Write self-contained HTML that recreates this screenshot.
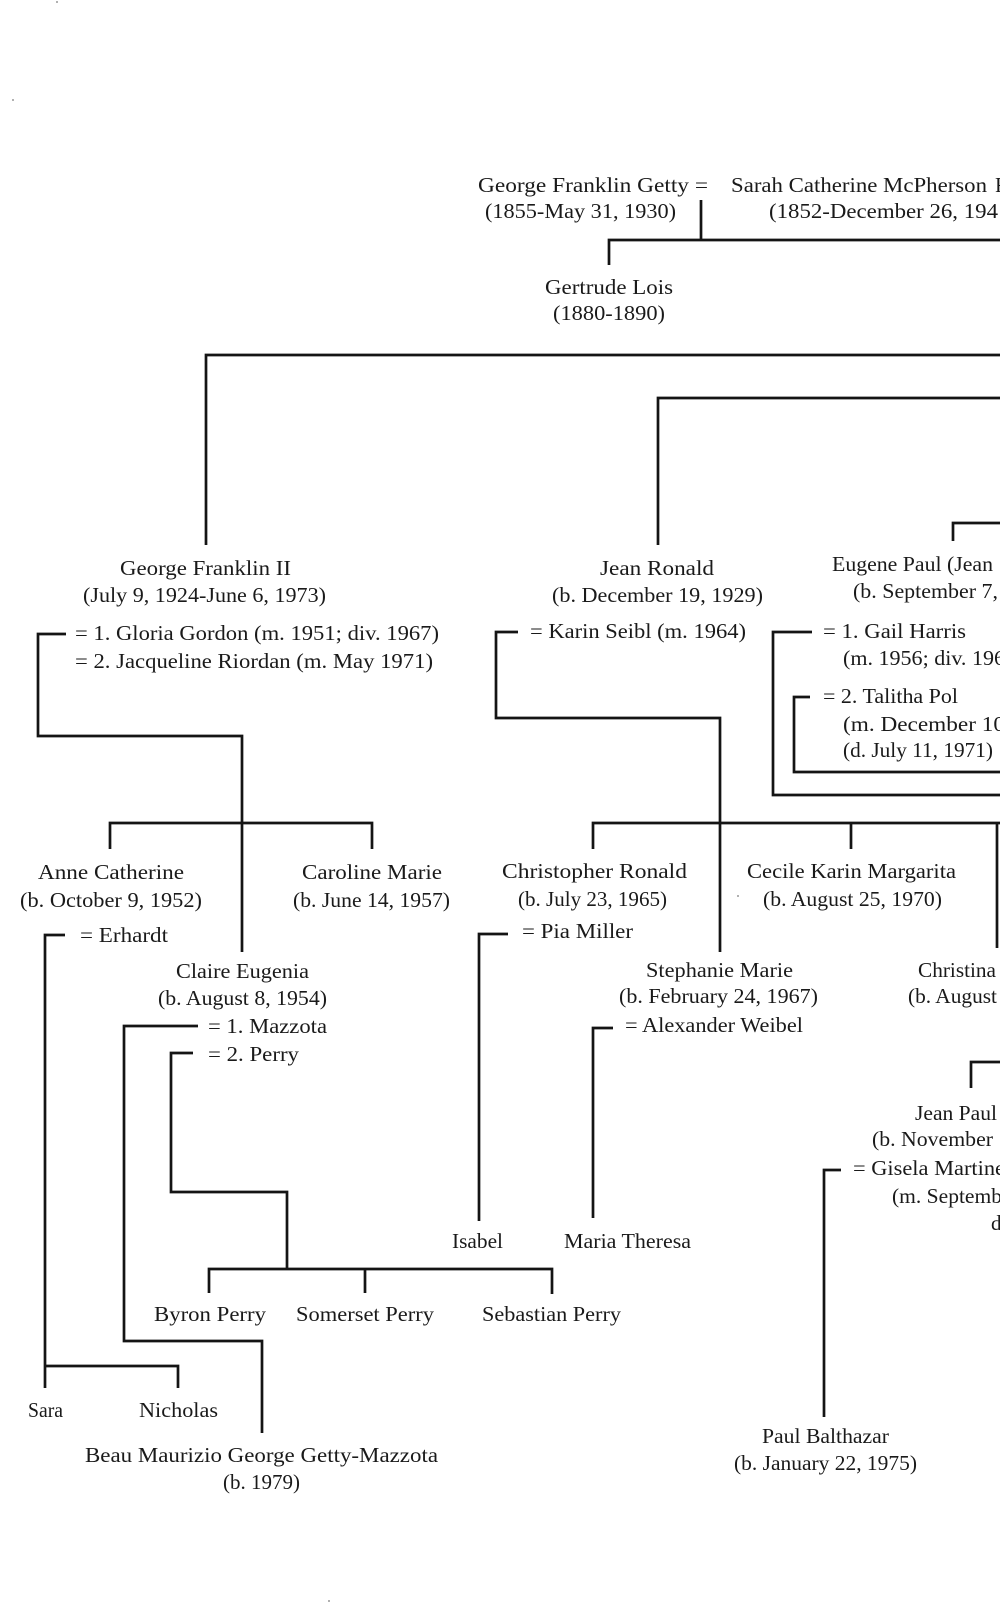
<!DOCTYPE html>
<html>
<head>
<meta charset="utf-8">
<style>
  html,body{margin:0;padding:0;background:#fff;width:1000px;height:1621px;overflow:hidden;}
  svg{display:block;}
  text{font-family:"Liberation Serif","DejaVu Serif",serif;font-size:21px;fill:#1a1a1a;}
</style>
</head>
<body>
<svg width="1000" height="1621" viewBox="0 0 1000 1621" xmlns="http://www.w3.org/2000/svg">
<g fill="none" stroke="#141414" stroke-width="2.7" stroke-linecap="butt" stroke-linejoin="miter">
  <!-- top couple -->
  <polyline points="701,200 701,240"/>
  <polyline points="609,265 609,240 1000,240"/>
  <!-- generation lines -->
  <polyline points="206,545 206,355 1000,355"/>
  <polyline points="658,545 658,398 1000,398"/>
  <polyline points="953,541 953,523 1000,523"/>
  <!-- George Franklin II bracket -->
  <polyline points="66,634 38,634 38,736 242,736 242,952"/>
  <polyline points="110,849 110,823 372,823 372,849"/>
  <!-- Erhardt -->
  <polyline points="65,935 45,935 45,1388"/>
  <polyline points="45,1366 178,1366 178,1388"/>
  <!-- Mazzota -->
  <polyline points="198,1026 124,1026 124,1341 262,1341 262,1433"/>
  <!-- Perry -->
  <polyline points="193,1053 171,1053 171,1192 287,1192 287,1269"/>
  <polyline points="209,1293 209,1269 552,1269 552,1294"/>
  <polyline points="365,1269 365,1293"/>
  <!-- Jean Ronald -->
  <polyline points="518,632 496,632 496,718 720,718 720,952"/>
  <polyline points="593,849 593,823 1000,823"/>
  <polyline points="851,823 851,849"/>
  <polyline points="997,823 997,948"/>
  <!-- Pia Miller -->
  <polyline points="508,934 479,934 479,1221"/>
  <!-- Alexander Weibel -->
  <polyline points="613,1028 593,1028 593,1218"/>
  <!-- Eugene Paul marriages -->
  <polyline points="812,632 773,632 773,795 1000,795"/>
  <polyline points="810,697 794,697 794,772 1000,772"/>
  <!-- Jean Paul -->
  <polyline points="971,1088 971,1062 1000,1062"/>
  <polyline points="841,1170 824,1170 824,1417"/>
</g>

<!-- specks -->
<g fill="#999">
  <circle cx="57" cy="2" r="1"/>
  <circle cx="13" cy="100" r="1"/>
  <circle cx="329" cy="1601" r="1"/>
  <circle cx="738" cy="896" r="1"/>
</g>

<g lengthAdjust="spacingAndGlyphs">
  <text x="478" y="192" textLength="230" lengthAdjust="spacingAndGlyphs">George Franklin Getty =</text>
  <text x="485" y="218" textLength="191" lengthAdjust="spacingAndGlyphs">(1855-May 31, 1930)</text>
  <text x="731" y="192" textLength="256" lengthAdjust="spacingAndGlyphs">Sarah Catherine McPherson</text>
  <text x="995" y="192">F</text>
  <text x="769" y="218" textLength="229" lengthAdjust="spacingAndGlyphs">(1852-December 26, 194</text>
  <text x="545" y="294" textLength="128" lengthAdjust="spacingAndGlyphs">Gertrude Lois</text>
  <text x="553" y="320" textLength="112" lengthAdjust="spacingAndGlyphs">(1880-1890)</text>

  <text x="120" y="575" textLength="171" lengthAdjust="spacingAndGlyphs">George Franklin II</text>
  <text x="83" y="602" textLength="243" lengthAdjust="spacingAndGlyphs">(July 9, 1924-June 6, 1973)</text>
  <text x="75" y="640" textLength="364" lengthAdjust="spacingAndGlyphs">= 1. Gloria Gordon (m. 1951; div. 1967)</text>
  <text x="75" y="668" textLength="358" lengthAdjust="spacingAndGlyphs">= 2. Jacqueline Riordan (m. May 1971)</text>

  <text x="600" y="575" textLength="114" lengthAdjust="spacingAndGlyphs">Jean Ronald</text>
  <text x="552" y="602" textLength="211" lengthAdjust="spacingAndGlyphs">(b. December 19, 1929)</text>
  <text x="530" y="638" textLength="216" lengthAdjust="spacingAndGlyphs">= Karin Seibl (m. 1964)</text>

  <text x="832" y="571" textLength="161" lengthAdjust="spacingAndGlyphs">Eugene Paul (Jean</text>
  <text x="853" y="598" textLength="145" lengthAdjust="spacingAndGlyphs">(b. September 7,</text>
  <text x="823" y="638" textLength="143" lengthAdjust="spacingAndGlyphs">= 1. Gail Harris</text>
  <text x="843" y="665" textLength="162" lengthAdjust="spacingAndGlyphs">(m. 1956; div. 196</text>
  <text x="823" y="703" textLength="135" lengthAdjust="spacingAndGlyphs">= 2. Talitha Pol</text>
  <text x="843" y="731" textLength="162" lengthAdjust="spacingAndGlyphs">(m. December 10</text>
  <text x="843" y="757" textLength="150" lengthAdjust="spacingAndGlyphs">(d. July 11, 1971)</text>

  <text x="38" y="879" textLength="146" lengthAdjust="spacingAndGlyphs">Anne Catherine</text>
  <text x="20" y="907" textLength="182" lengthAdjust="spacingAndGlyphs">(b. October 9, 1952)</text>
  <text x="302" y="879" textLength="140" lengthAdjust="spacingAndGlyphs">Caroline Marie</text>
  <text x="293" y="907" textLength="157" lengthAdjust="spacingAndGlyphs">(b. June 14, 1957)</text>
  <text x="502" y="878" textLength="185" lengthAdjust="spacingAndGlyphs">Christopher Ronald</text>
  <text x="518" y="906" textLength="149" lengthAdjust="spacingAndGlyphs">(b. July 23, 1965)</text>
  <text x="747" y="878" textLength="209" lengthAdjust="spacingAndGlyphs">Cecile Karin Margarita</text>
  <text x="763" y="906" textLength="179" lengthAdjust="spacingAndGlyphs">(b. August 25, 1970)</text>

  <text x="80" y="942" textLength="88" lengthAdjust="spacingAndGlyphs">= Erhardt</text>
  <text x="522" y="938" textLength="111" lengthAdjust="spacingAndGlyphs">= Pia Miller</text>

  <text x="176" y="978" textLength="133" lengthAdjust="spacingAndGlyphs">Claire Eugenia</text>
  <text x="158" y="1005" textLength="169" lengthAdjust="spacingAndGlyphs">(b. August 8, 1954)</text>
  <text x="646" y="977" textLength="147" lengthAdjust="spacingAndGlyphs">Stephanie Marie</text>
  <text x="619" y="1003" textLength="199" lengthAdjust="spacingAndGlyphs">(b. February 24, 1967)</text>
  <text x="918" y="977" textLength="78" lengthAdjust="spacingAndGlyphs">Christina</text>
  <text x="908" y="1003" textLength="89" lengthAdjust="spacingAndGlyphs">(b. August</text>

  <text x="208" y="1033" textLength="119" lengthAdjust="spacingAndGlyphs">= 1. Mazzota</text>
  <text x="208" y="1061" textLength="91" lengthAdjust="spacingAndGlyphs">= 2. Perry</text>
  <text x="625" y="1032" textLength="178" lengthAdjust="spacingAndGlyphs">= Alexander Weibel</text>

  <text x="915" y="1120" textLength="82" lengthAdjust="spacingAndGlyphs">Jean Paul</text>
  <text x="872" y="1146" textLength="121" lengthAdjust="spacingAndGlyphs">(b. November</text>
  <text x="853" y="1175" textLength="152" lengthAdjust="spacingAndGlyphs">= Gisela Martine</text>
  <text x="892" y="1203" textLength="110" lengthAdjust="spacingAndGlyphs">(m. Septemb</text>
  <text x="991" y="1230">d</text>

  <text x="452" y="1248" textLength="51" lengthAdjust="spacingAndGlyphs">Isabel</text>
  <text x="564" y="1248" textLength="127" lengthAdjust="spacingAndGlyphs">Maria Theresa</text>

  <text x="154" y="1321" textLength="112" lengthAdjust="spacingAndGlyphs">Byron Perry</text>
  <text x="296" y="1321" textLength="138" lengthAdjust="spacingAndGlyphs">Somerset Perry</text>
  <text x="482" y="1321" textLength="139" lengthAdjust="spacingAndGlyphs">Sebastian Perry</text>

  <text x="28" y="1417" textLength="35" lengthAdjust="spacingAndGlyphs">Sara</text>
  <text x="139" y="1417" textLength="79" lengthAdjust="spacingAndGlyphs">Nicholas</text>
  <text x="85" y="1462" textLength="353" lengthAdjust="spacingAndGlyphs">Beau Maurizio George Getty-Mazzota</text>
  <text x="223" y="1489" textLength="77" lengthAdjust="spacingAndGlyphs">(b. 1979)</text>

  <text x="762" y="1443" textLength="127" lengthAdjust="spacingAndGlyphs">Paul Balthazar</text>
  <text x="734" y="1470" textLength="183" lengthAdjust="spacingAndGlyphs">(b. January 22, 1975)</text>
</g>
</svg>
</body>
</html>
